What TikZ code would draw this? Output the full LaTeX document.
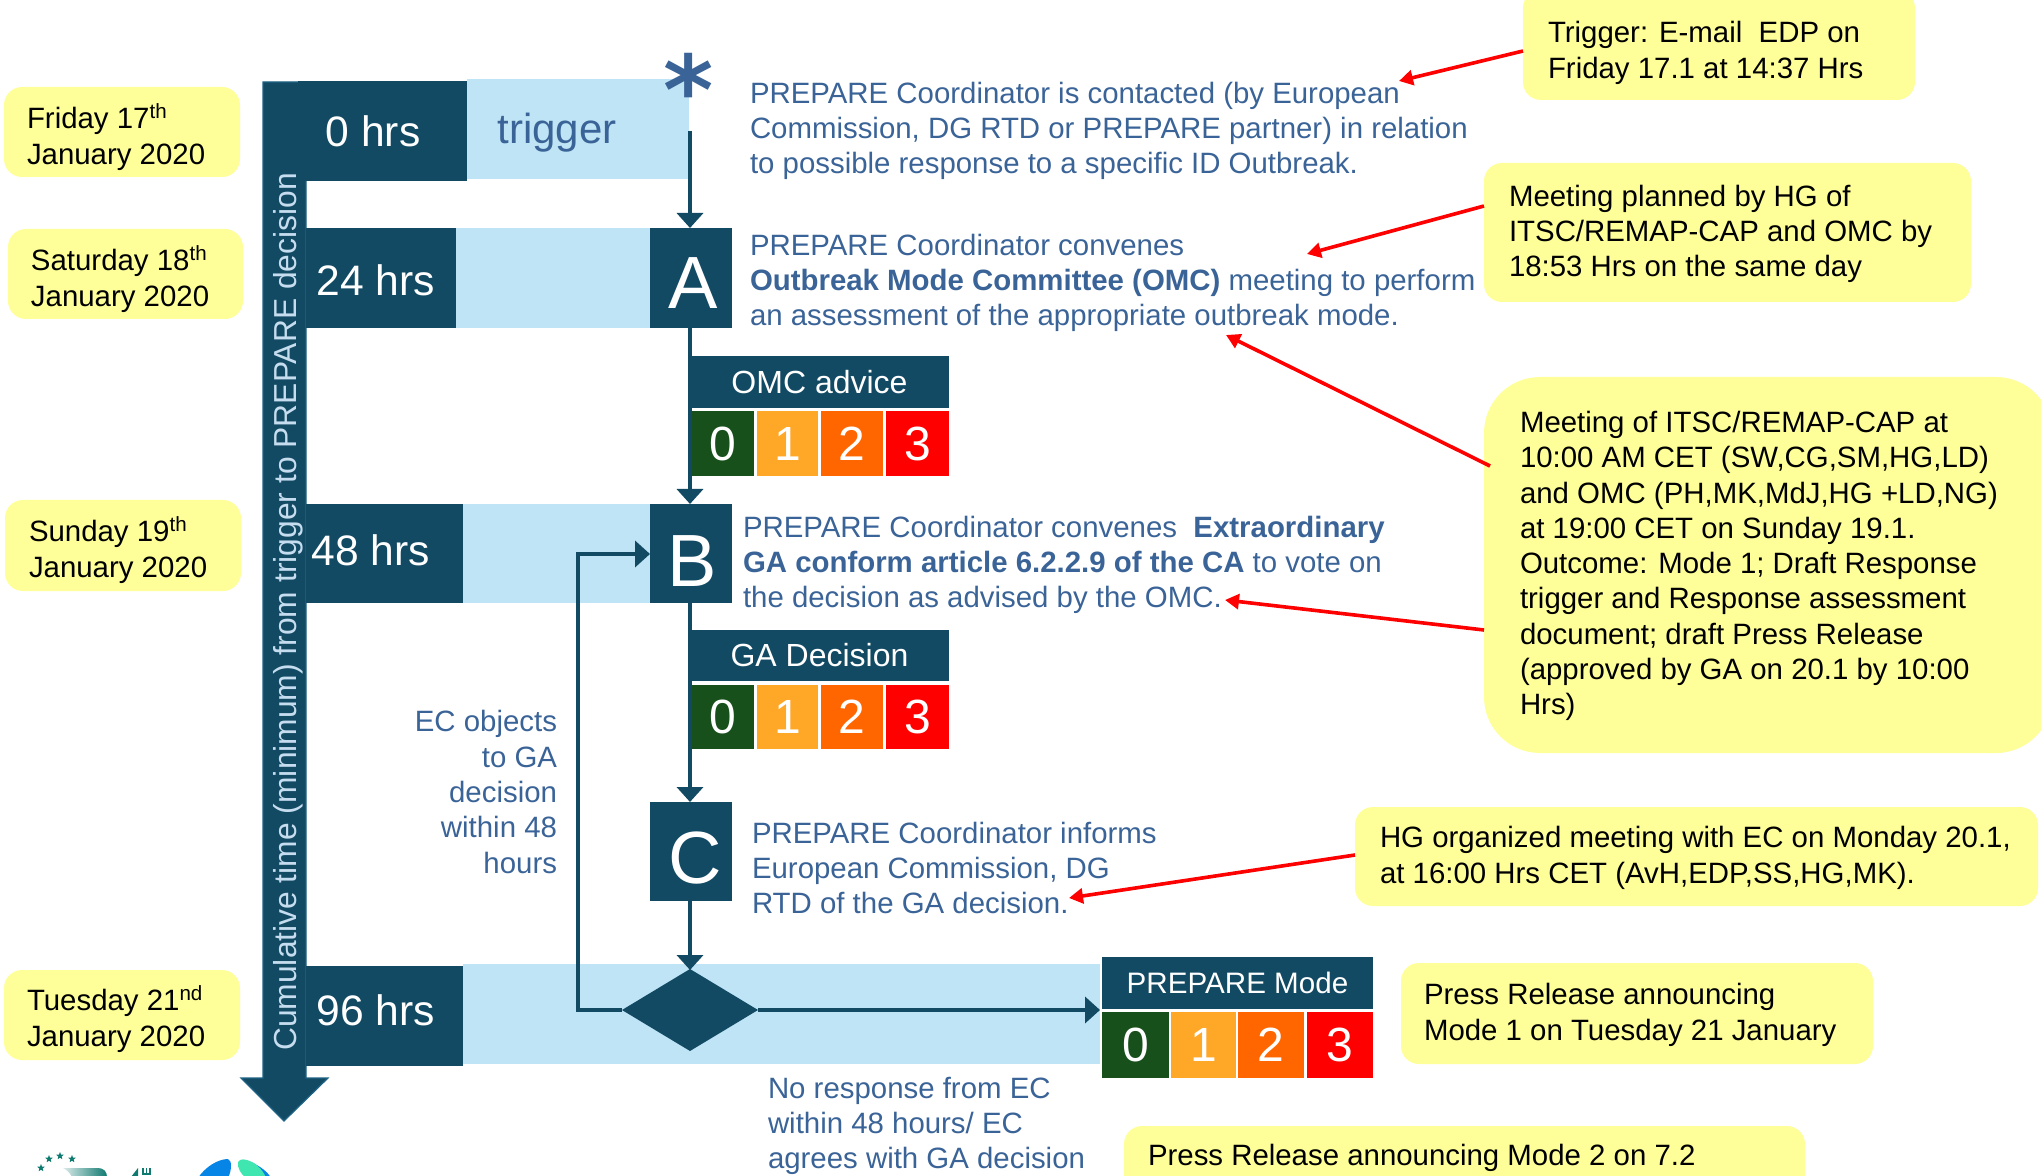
\documentclass[tikz,border=0pt]{standalone}
\usepackage{fontspec}
\setmainfont{Liberation Sans}
\newfontfamily\astfont{DejaVu Sans}
\usetikzlibrary{arrows.meta,shapes.geometric,calc}
\definecolor{navy}{HTML}{124A64}
\definecolor{navyedge}{HTML}{1F6385}
\definecolor{band}{HTML}{BFE4F5}
\definecolor{note}{HTML}{FFFF99}
\definecolor{inkblue}{HTML}{3A6397}
\definecolor{vert}{HTML}{C6DDEF}
\definecolor{zero}{HTML}{17501B}
\definecolor{one}{HTML}{FFA726}
\definecolor{two}{HTML}{FF6600}
\definecolor{three}{HTML}{FF0000}
\definecolor{logoteal}{HTML}{0F7A70}
\definecolor{logoblue}{HTML}{0785E6}
\definecolor{logogreen}{HTML}{40E6B0}
\tikzset{
 every node/.style={inner sep=0pt,outer sep=0pt},
 body/.style={font=\fontsize{14.7}{17.65}\selectfont,align=left,anchor=west},
 bluetext/.style={body,text=inkblue},
 blacktext/.style={body,text=black},
 notebox/.style={fill=note,rounded corners=9pt},
 darkbox/.style={fill=navy,text=white,minimum width=0pt},
 bandbox/.style={fill=band},
 hrs/.style={text=white,font=\fontsize{21.3}{25}\selectfont},
 letter/.style={text=white,font=\fontsize{37}{40}\selectfont},
 head/.style={fill=navy,text=white,font=\fontsize{16}{19}\selectfont},
 digit/.style={text=white,font=\fontsize{24}{28}\selectfont},
 flow/.style={draw=navy,line width=2pt,-{Triangle[length=7.5pt,width=13pt]}},
 redarrow/.style={draw=red,line width=1.8pt,-{Triangle[length=7pt,width=7.5pt]}},
 logostar/.style={fill=logoteal,star,star points=5,star point ratio=2.3,minimum size=4pt},
}
\newcommand{\boxat}[6][]{\node[#1,minimum width=#4*0.5pt-#2*0.5pt,minimum height=#5*0.5pt-#3*0.5pt,anchor=north west] (#6) at (#2,#3) {};}
% prefix, top, bottom, list of label/colour/left/right
\newcommand{\modecells}[4]{%
 \foreach \lab/\col/\xa/\xb in {#4}{
  \node[fill=\col,digit,minimum width=(\xb-\xa)*0.5pt,minimum height=(#3-#2)*0.5pt,anchor=north west] (#1\lab) at (\xa,#2) {\lab};
 }}
\begin{document}
\begin{tikzpicture}[x=0.5pt,y=-0.5pt]
\clip (0,0) rectangle (2041,1176);
\useasboundingbox (0,0) rectangle (2041,1176);
% time arrow
\draw[fill=navy,draw=navyedge,line width=0.6pt] (263,82) -- (306,82) -- (306,1078) -- (328,1078) -- (284,1121) -- (241,1078) -- (263,1078) -- cycle;
% bands
\boxat[bandbox]{467}{79}{689}{179}{trigband}
\boxat[bandbox]{456}{228}{650}{328}{aband}
\boxat[bandbox]{463}{504}{650}{603}{bband}
\boxat[bandbox]{463}{964}{1100}{1064}{dband}
% hour boxes
\boxat[darkbox]{298}{81}{467}{181}{h0}
\boxat[darkbox]{306}{228}{456}{328}{h24}
\boxat[darkbox]{306}{504}{463}{603}{h48}
\boxat[darkbox]{306}{966}{463}{1066}{h96}
\node[hrs] (l0) at (373,131) {0 hrs};
\node[hrs] (l24) at (376,280) {24 hrs};
\node[hrs] (l48) at (371,550) {48 hrs};
\node[hrs] (l96) at (376,1010) {96 hrs};
\node[text=inkblue,font=\fontsize{21}{25}\selectfont] (trig) at (557,133) {trigger};
\node[rotate=90,text=vert,font=\fontsize{15.9}{18}\selectfont] (vtext) at (288,612) {Cumulative time (minimum) from trigger to PREPARE decision};
% star
\node[text=inkblue,font=\astfont\bfseries\fontsize{48}{48}\selectfont] (star) at (689,89) {*};
\coordinate (startop) at (690,131);
% letter boxes
\boxat[darkbox]{650}{228}{732}{328}{A}
\boxat[darkbox]{650}{504}{732}{603}{B}
\boxat[darkbox]{650}{802}{732}{901}{C}
\node[letter] at (693,283) {A};
\node[letter] at (692,561) {B};
\node[letter] at (695,858) {C};
\node[fill=navy,diamond,aspect=1.66,minimum width=136*0.5pt,minimum height=82*0.5pt] (dec) at (690,1010) {};
% flow
\coordinate (atop) at (690,228);
\coordinate (abot) at (690,328);
\coordinate (btop) at (690,504);
\coordinate (bbot) at (690,603);
\coordinate (ctop) at (690,802);
\coordinate (cbot) at (690,901);
\coordinate (dtop) at (690,970);
\coordinate (bleft) at (650,554);
\coordinate (corner1) at (578,1010);
\coordinate (corner2) at (578,554);
\coordinate (mleft) at (1100,1010);
\draw[flow] (startop) -- (atop);
\draw[flow] (abot) -- (btop);
\draw[flow] (bbot) -- (ctop);
\draw[flow] (cbot) -- (dtop);
\draw[flow] (dec.west) -- (corner1) -- (corner2) -- (bleft);
\draw[flow] (dec.east) -- (mleft);
% mode tables
\node[head,minimum width=129.5pt,minimum height=26pt,anchor=north west] (omc) at (690,356) {OMC advice};
\modecells{o}{411}{476}{0/zero/692/754,1/one/757/818,2/two/821/883,3/three/886/949}
\node[head,minimum width=129.5pt,minimum height=25.5pt,anchor=north west] (ga) at (690,630) {GA Decision};
\modecells{g}{685}{749}{0/zero/692/754,1/one/757/818,2/two/821/883,3/three/886/949}
\node[head,font=\fontsize{14.8}{18}\selectfont,minimum width=135.5pt,minimum height=26pt,anchor=north west] (pm) at (1102,957) {PREPARE Mode};
\modecells{p}{1012}{1078}{0/zero/1102/1169,1/one/1171/1236,2/two/1238/1304,3/three/1307/1373}
% blue text
\node[bluetext] (t1) at (750,131) {PREPARE Coordinator is contacted (by European\\Commission, DG RTD or PREPARE partner) in relation\\to possible response to a specific ID Outbreak.};
\node[bluetext] (t2) at (750,283) {PREPARE Coordinator convenes\\\textbf{Outbreak Mode Committee (OMC)} meeting to perform\\an assessment of the appropriate outbreak mode.};
\node[bluetext] (t3) at (743,565) {PREPARE Coordinator convenes\ \ \textbf{Extraordinary}\\\textbf{GA conform article 6.2.2.9 of the CA} to vote on\\the decision as advised by the OMC.};
\node[bluetext] (t4) at (752,868) {PREPARE Coordinator informs\\European Commission, DG\\RTD of the GA decision.};
\node[bluetext,align=right,anchor=east] (t5) at (557,792) {EC objects\\to GA\\decision\\within 48\\hours};
\node[bluetext] (t6) at (768,1126) {No response from EC\\within 48 hours/ EC\\agrees with GA decision};
% notes
\boxat[notebox]{4}{87}{240}{177}{n1}
\boxat[notebox]{8}{229}{243}{319}{n2}
\boxat[notebox]{5}{500}{241}{591}{n3}
\boxat[notebox]{4}{970}{240}{1060}{n4}
\boxat[notebox]{1523}{-10}{1915}{100}{n5}
\boxat[notebox]{1484}{163}{1971}{302}{n6}
\boxat[notebox,rounded corners=28pt]{1484}{377}{2052}{753}{n7}
\boxat[notebox]{1355}{807}{2038}{906}{n8}
\boxat[notebox]{1401}{963}{1873}{1064}{n9}
\boxat[notebox]{1124}{1126}{1805}{1240}{n10}
\node[blacktext] (d1) at (27,137) {Friday 17\textsuperscript{th}\\January 2020};
\node[blacktext] (d2) at (31,279) {Saturday 18\textsuperscript{th}\\January 2020};
\node[blacktext] (d3) at (29,550) {Sunday 19\textsuperscript{th}\\January 2020};
\node[blacktext] (d4) at (27,1019) {Tuesday 21\textsuperscript{nd}\\January 2020};
\node[blacktext] (e1) at (1548,53) {Trigger: E-mail\ \ EDP on\\Friday 17.1 at 14:37 Hrs};
\node[blacktext] (e2) at (1509,234) {Meeting planned by HG of\\ITSC/REMAP-CAP and OMC by\\18:53 Hrs on the same day};
\node[blacktext] (e3) at (1520,566) {Meeting of ITSC/REMAP-CAP at\\10:00 AM CET (SW,CG,SM,HG,LD)\\and OMC (PH,MK,MdJ,HG +LD,NG)\\at 19:00 CET on Sunday 19.1.\\Outcome: Mode 1; Draft Response\\trigger and Response assessment\\document; draft Press Release\\(approved by GA on 20.1 by 10:00\\Hrs)};
\node[blacktext] (e4) at (1380,858) {HG organized meeting with EC on Monday 20.1,\\at 16:00 Hrs CET (AvH,EDP,SS,HG,MK).};
\node[blacktext] (e5) at (1424,1015) {Press Release announcing\\Mode 1 on Tuesday 21 January};
\node[blacktext] (e6) at (1148,1158) {Press Release announcing Mode 2 on 7.2};
% red arrows
\coordinate (r1a) at (1523,51); \coordinate (r1b) at (1399,81);
\coordinate (r2a) at (1484,206); \coordinate (r2b) at (1307,254);
\coordinate (r3a) at (1490,466); \coordinate (r3b) at (1226,335);
\coordinate (r4a) at (1484,630); \coordinate (r4b) at (1225,600);
\coordinate (r5a) at (1355,855); \coordinate (r5b) at (1069,898);
\draw[redarrow] (r1a) -- (r1b);
\draw[redarrow] (r2a) -- (r2b);
\draw[redarrow] (r3a) -- (r3b);
\draw[redarrow] (r4a) -- (r4b);
\draw[redarrow] (r5a) -- (r5b);
% logo fragments
\foreach \i/\sx/\sy in {1/41/1168,2/49/1159,3/60/1156,4/72/1159}
  \node[logostar] (ls\i) at (\sx,\sy) {};
\shade[left color=logoteal!15,right color=logoteal] (63,1168) -- (98,1168) .. controls (104,1168) and (107,1172) .. (107,1177) -- (72,1177) .. controls (70,1173) and (67,1170) .. (63,1168) -- cycle;
\fill[logoteal] (138,1168) -- (138,1177) -- (131,1177) -- cycle;
\draw[logoteal,line width=0.6pt] (143,1168) -- (143,1174) -- (150,1174) -- (150,1168) (146.5,1168) -- (146.5,1174);
\fill[logoblue] (198,1178) .. controls (205,1167) and (218,1159) .. (228,1159) .. controls (232,1160) and (232,1170) .. (228,1178) -- cycle;
\fill[logoblue] (245,1160) .. controls (255,1163) and (267,1170) .. (271,1178) -- (262,1178) -- cycle;
\fill[logogreen] (238,1162) .. controls (240,1158) and (246,1159) .. (252,1162) .. controls (258,1165) and (264,1172) .. (266,1178) -- (246,1178) .. controls (241,1174) and (237,1168) .. (238,1162) -- cycle;
\end{tikzpicture}
\end{document}
